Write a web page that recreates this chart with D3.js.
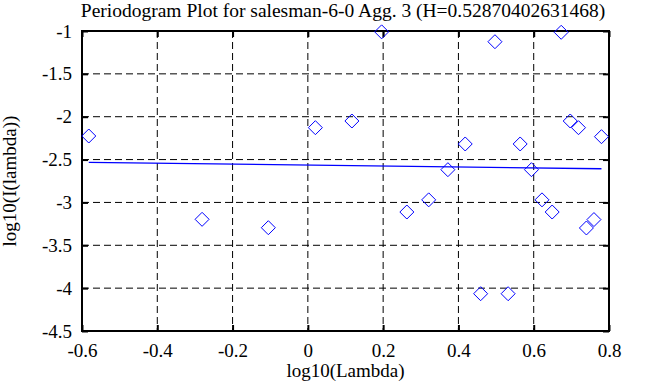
<!DOCTYPE html>
<html>
<head>
<meta charset="utf-8">
<script src="https://cdn.jsdelivr.net/npm/d3@7"></script>
<style>
  html,body{margin:0;padding:0;background:#fff;}
</style>
</head>
<body>
<svg id="chart" width="658" height="387"></svg>
<script>
/* ===== Data ===== */
const titleText = 'Periodogram Plot for salesman-6-0 Agg. 3 (H=0.52870402631468)';
const logLambda = [-0.582,-0.281,-0.105,0.020,0.117,0.196,0.263,0.321,0.372,0.418,0.459,0.497,
                   0.532,0.564,0.594,0.622,0.649,0.673,0.697,0.719,0.740,0.760,0.780];
const logI = [-2.225,-3.197,-3.295,-2.128,-2.05,-1.01,-3.112,-2.97,-2.618,-2.318,-4.065,-1.125,
              -4.065,-2.318,-2.618,-2.97,-3.112,-1.015,-2.05,-2.128,-3.298,-3.2,-2.233];
const fitX = [-0.582, 0.780];
const fitY = [-2.532, -2.607];
const xTicks = [-0.6,-0.4,-0.2,0,0.2,0.4,0.6,0.8];
const yTicks = [-1,-1.5,-2,-2.5,-3,-3.5,-4,-4.5];

const FONT = "'Liberation Serif', 'DejaVu Serif', serif";

/* ===== Layout ===== */
const svg = d3.select('#chart');
const W = 658, H = 387, m = {t:31, r:49, b:56, l:82};
const iw = W-m.l-m.r, ih = H-m.t-m.b;
const g = svg.append('g').attr('transform',`translate(${m.l},${m.t})`);

const x = d3.scaleLinear().domain([-0.6,0.8]).range([0,iw]);
const y = d3.scaleLinear().domain([-4.5,-1]).range([ih,0]);
const fmt = d => String(d);

// grid
g.append('g').selectAll('line').data(xTicks.slice(1,-1)).enter().append('line')
  .attr('x1',d=>x(d)).attr('x2',d=>x(d)).attr('y1',0).attr('y2',ih)
  .attr('stroke','#000').attr('stroke-width',1).attr('stroke-dasharray','7,4');
g.append('g').selectAll('line').data(yTicks.slice(1,-1)).enter().append('line')
  .attr('y1',d=>y(d)).attr('y2',d=>y(d)).attr('x1',0).attr('x2',iw)
  .attr('stroke','#000').attr('stroke-width',1).attr('stroke-dasharray','7,4');

// axes: inward ticks on all four sides
const tk = 6;
function axis(gen, tr){
  const a = g.append('g').attr('transform',tr).call(gen);
  a.attr('font-family',FONT).attr('font-size',19);
  a.select('.domain').remove();
  a.selectAll('.tick line').attr('stroke','#000').attr('stroke-width',2);
  a.selectAll('.tick text').attr('fill','#000');
  return a;
}
const ax = axis(d3.axisBottom(x).tickValues(xTicks).tickFormat(fmt).tickSize(-tk).tickPadding(20), `translate(0,${ih})`);
ax.selectAll('.tick text').attr('dy',null).attr('y',26);
axis(d3.axisTop(x).tickValues(xTicks).tickFormat('').tickSize(-tk), 'translate(0,0)');
const ay = axis(d3.axisLeft(y).tickValues(yTicks).tickFormat(fmt).tickSize(-tk).tickPadding(16), 'translate(0,0)');
ay.selectAll('.tick text').attr('x',-10);
axis(d3.axisRight(y).tickValues(yTicks).tickFormat('').tickSize(-tk), `translate(${iw},0)`);

// frame
g.append('rect').attr('width',iw).attr('height',ih)
  .attr('fill','none').attr('stroke','#000').attr('stroke-width',2);

// fit line
const line = d3.line().x((d,i)=>x(fitX[i])).y(d=>y(d));
g.append('path').attr('d',line(fitY)).attr('fill','none').attr('stroke','#0000ff').attr('stroke-width',1.3);

// diamonds
const r = 7;
g.append('g').selectAll('path').data(logLambda).enter().append('path')
  .attr('transform',(d,i)=>`translate(${x(d)},${y(logI[i])})`)
  .attr('d',`M0,${-r}L${r},0L0,${r}L${-r},0Z`)
  .attr('fill','none').attr('stroke','#0000ff').attr('stroke-width',1);

// labels
svg.append('text').attr('x',343).attr('y',17).attr('text-anchor','middle')
  .attr('font-family',FONT).attr('font-size',19.5).text(titleText);
svg.append('text').attr('x',m.l+iw/2).attr('y',377).attr('text-anchor','middle')
  .attr('font-family',FONT).attr('font-size',19).text('log10(Lambda)');
svg.append('text').attr('transform',`translate(16,${m.t+ih/2}) rotate(-90)`).attr('text-anchor','middle')
  .attr('font-family',FONT).attr('font-size',19).text('log10(I(lambda))');
</script>
</body>
</html>
